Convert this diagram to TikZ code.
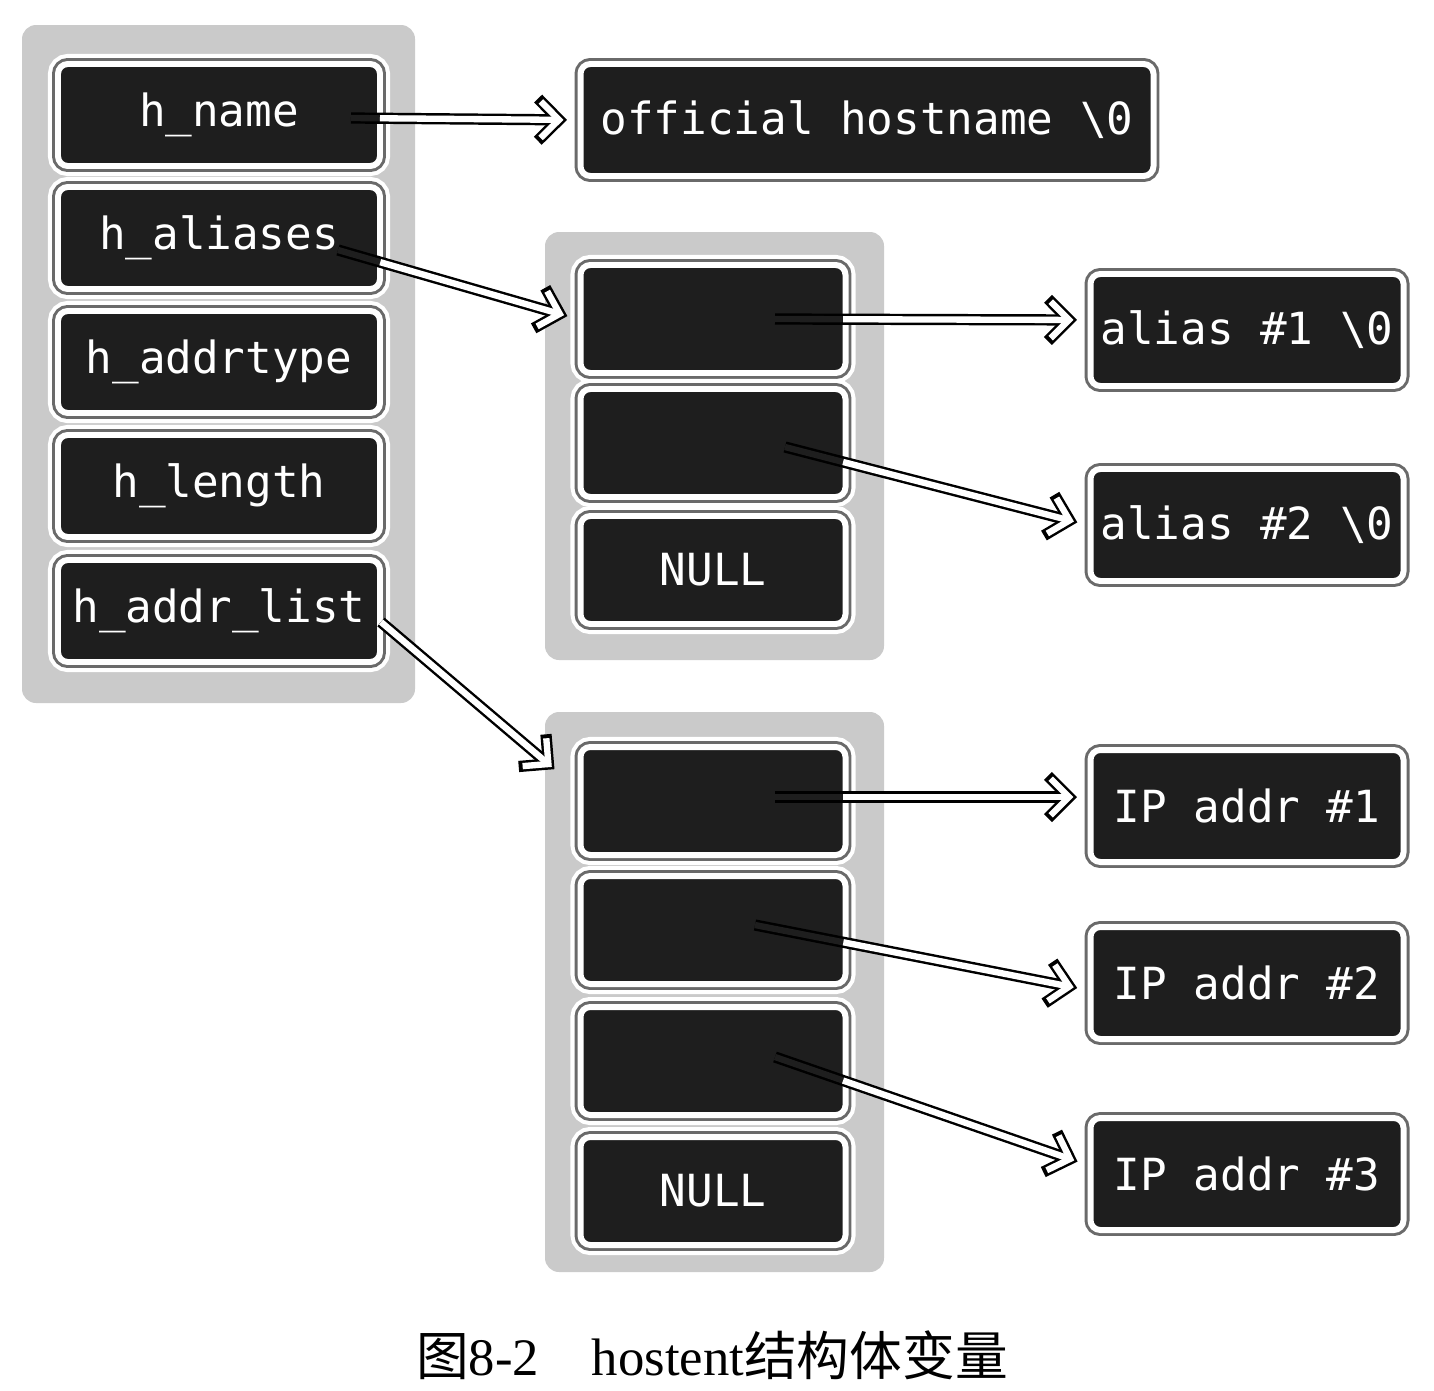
\documentclass[tikz,border=0pt]{standalone}
\usepackage{fontspec}
\setmainfont{Liberation Serif}
\setmonofont{DejaVu Sans Mono}
\newfontfamily\cjk{Noto Sans CJK SC}
\usetikzlibrary{arrows.meta,calc}
\definecolor{cellfill}{HTML}{1E1E1E}
\definecolor{ringgray}{HTML}{6A6A6A}
\definecolor{boxgray}{HTML}{CACACA}
\tikzset{
    cell/.style = {rectangle, rounded corners = 2.8pt, inner sep = 0pt, fill = cellfill, draw = white, line width = 1.7pt,
        preaction = {draw = white, line width = 5.7pt},
        preaction = {draw = ringgray, line width = 3.4pt},
        text = white, font = \ttfamily\fontsize{12.6}{14}\selectfont},
    field/.style = {cell, minimum width = 32.2mm, minimum height = 10.2mm},
    slot/.style = {cell, minimum width = 26.5mm, minimum height = 10.8mm},
    value/.style = {cell, minimum width = 31.3mm, minimum height = 11.2mm},
    holder/.style = {fill = boxgray, rounded corners = 4pt},
    ptr back/.style = {draw = black, line width = 3.2pt, shorten > = 3pt,
        -{Straight Barb[length = 6pt, width = 12pt, line cap = butt, line join = miter]}},
    ptr front/.style = {draw = white, line width = 1.8pt, shorten > = 4pt,
        -{Straight Barb[length = 5.2pt, width = 10.4pt, line cap = butt, line join = miter]}}
}
\begin{document}
\begin{tikzpicture}[x = 0.1mm, y = -0.1mm]
        \useasboundingbox (0,0) rectangle (1434,1390);
        \path [holder] (22,25) rectangle (415,703);
        \path [holder] (545,232) rectangle (884,660);
        \path [holder] (545,712) rectangle (884,1272);
        % struct hostent
        \node [field] (f-1) at (219,115) {h\_name};
        \node [field] (f-2) at (219,238) {h\_aliases};
        \node [field] (f-3) at (219,362) {h\_addrtype};
        \node [field] (f-4) at (219,486) {h\_length};
        \node [field] (f-5) at (219,611) {h\_addr\_list};
        \node [cell, minimum width = 57.3mm, minimum height = 11.2mm] (o-1) at (867,120) {official hostname \textbackslash0};
        % alias array
        \node [slot] (a-1) at (713,319) {};
        \node [slot] (a-2) at (713,443) {};
        \node [slot] (a-3) at (713,570) {NULL};
        \node [value] (l-1) at (1247,330) {alias \#1 \textbackslash0};
        \node [value] (l-2) at (1247,525) {alias \#2 \textbackslash0};
        % address list
        \node [slot] (p-1) at (713,801) {};
        \node [slot] (p-2) at (713,930) {};
        \node [slot] (p-3) at (713,1061) {};
        \node [slot] (p-4) at (713,1191) {NULL};
        \node [value] (i-1) at (1247,806) {IP addr \#1};
        \node [value] (i-2) at (1247,983) {IP addr \#2};
        \node [value] (i-3) at (1247,1174) {IP addr \#3};
        \node [font = \fontsize{15}{18}\selectfont] (cap) at (712,1355) {{\cjk 图}8-2\hspace{1em}hostent{\cjk 结构体变量}};
        % pointer ends
        \coordinate (s-1) at ($(f-1.east)+(-32,3)$);    \coordinate (e-1) at (o-1.west);
        \coordinate (s-2) at ($(f-2.east)+(-45,12)$);   \coordinate (e-2) at (a-1.west);
        \coordinate (s-3) at ($(f-5.east)+(-2,11)$);    \coordinate (e-3) at ($(p-1.west)+(-15,-25)$);
        \coordinate (s-4) at ($(a-1.center)+(62,0)$);   \coordinate (e-4) at ($(l-1.west)+(0,-10)$);
        \coordinate (s-5) at ($(a-2.center)+(72,4)$);   \coordinate (e-5) at (l-2.west);
        \coordinate (s-6) at ($(p-1.center)+(62,-4)$);  \coordinate (e-6) at ($(i-1.west)+(0,-9)$);
        \coordinate (s-7) at ($(p-2.center)+(42,-5)$);  \coordinate (e-7) at ($(i-2.west)+(0,7)$);
        \coordinate (s-8) at ($(p-3.center)+(62,-4)$);  \coordinate (e-8) at ($(i-3.west)+(0,-9)$);
        \foreach \n/\g in {1/2.9mm, 2/4.4mm, 3/0mm, 4/6.8mm, 5/6mm, 6/6.8mm, 7/9mm, 8/7.2mm} {
            \draw [ptr back] (s-\n) -- (e-\n);
            \draw [ptr front, draw = cellfill] (s-\n) -- (e-\n);
            \draw [ptr front, shorten < = \g] (s-\n) -- (e-\n);
        }
    \end{tikzpicture}
\end{document}
